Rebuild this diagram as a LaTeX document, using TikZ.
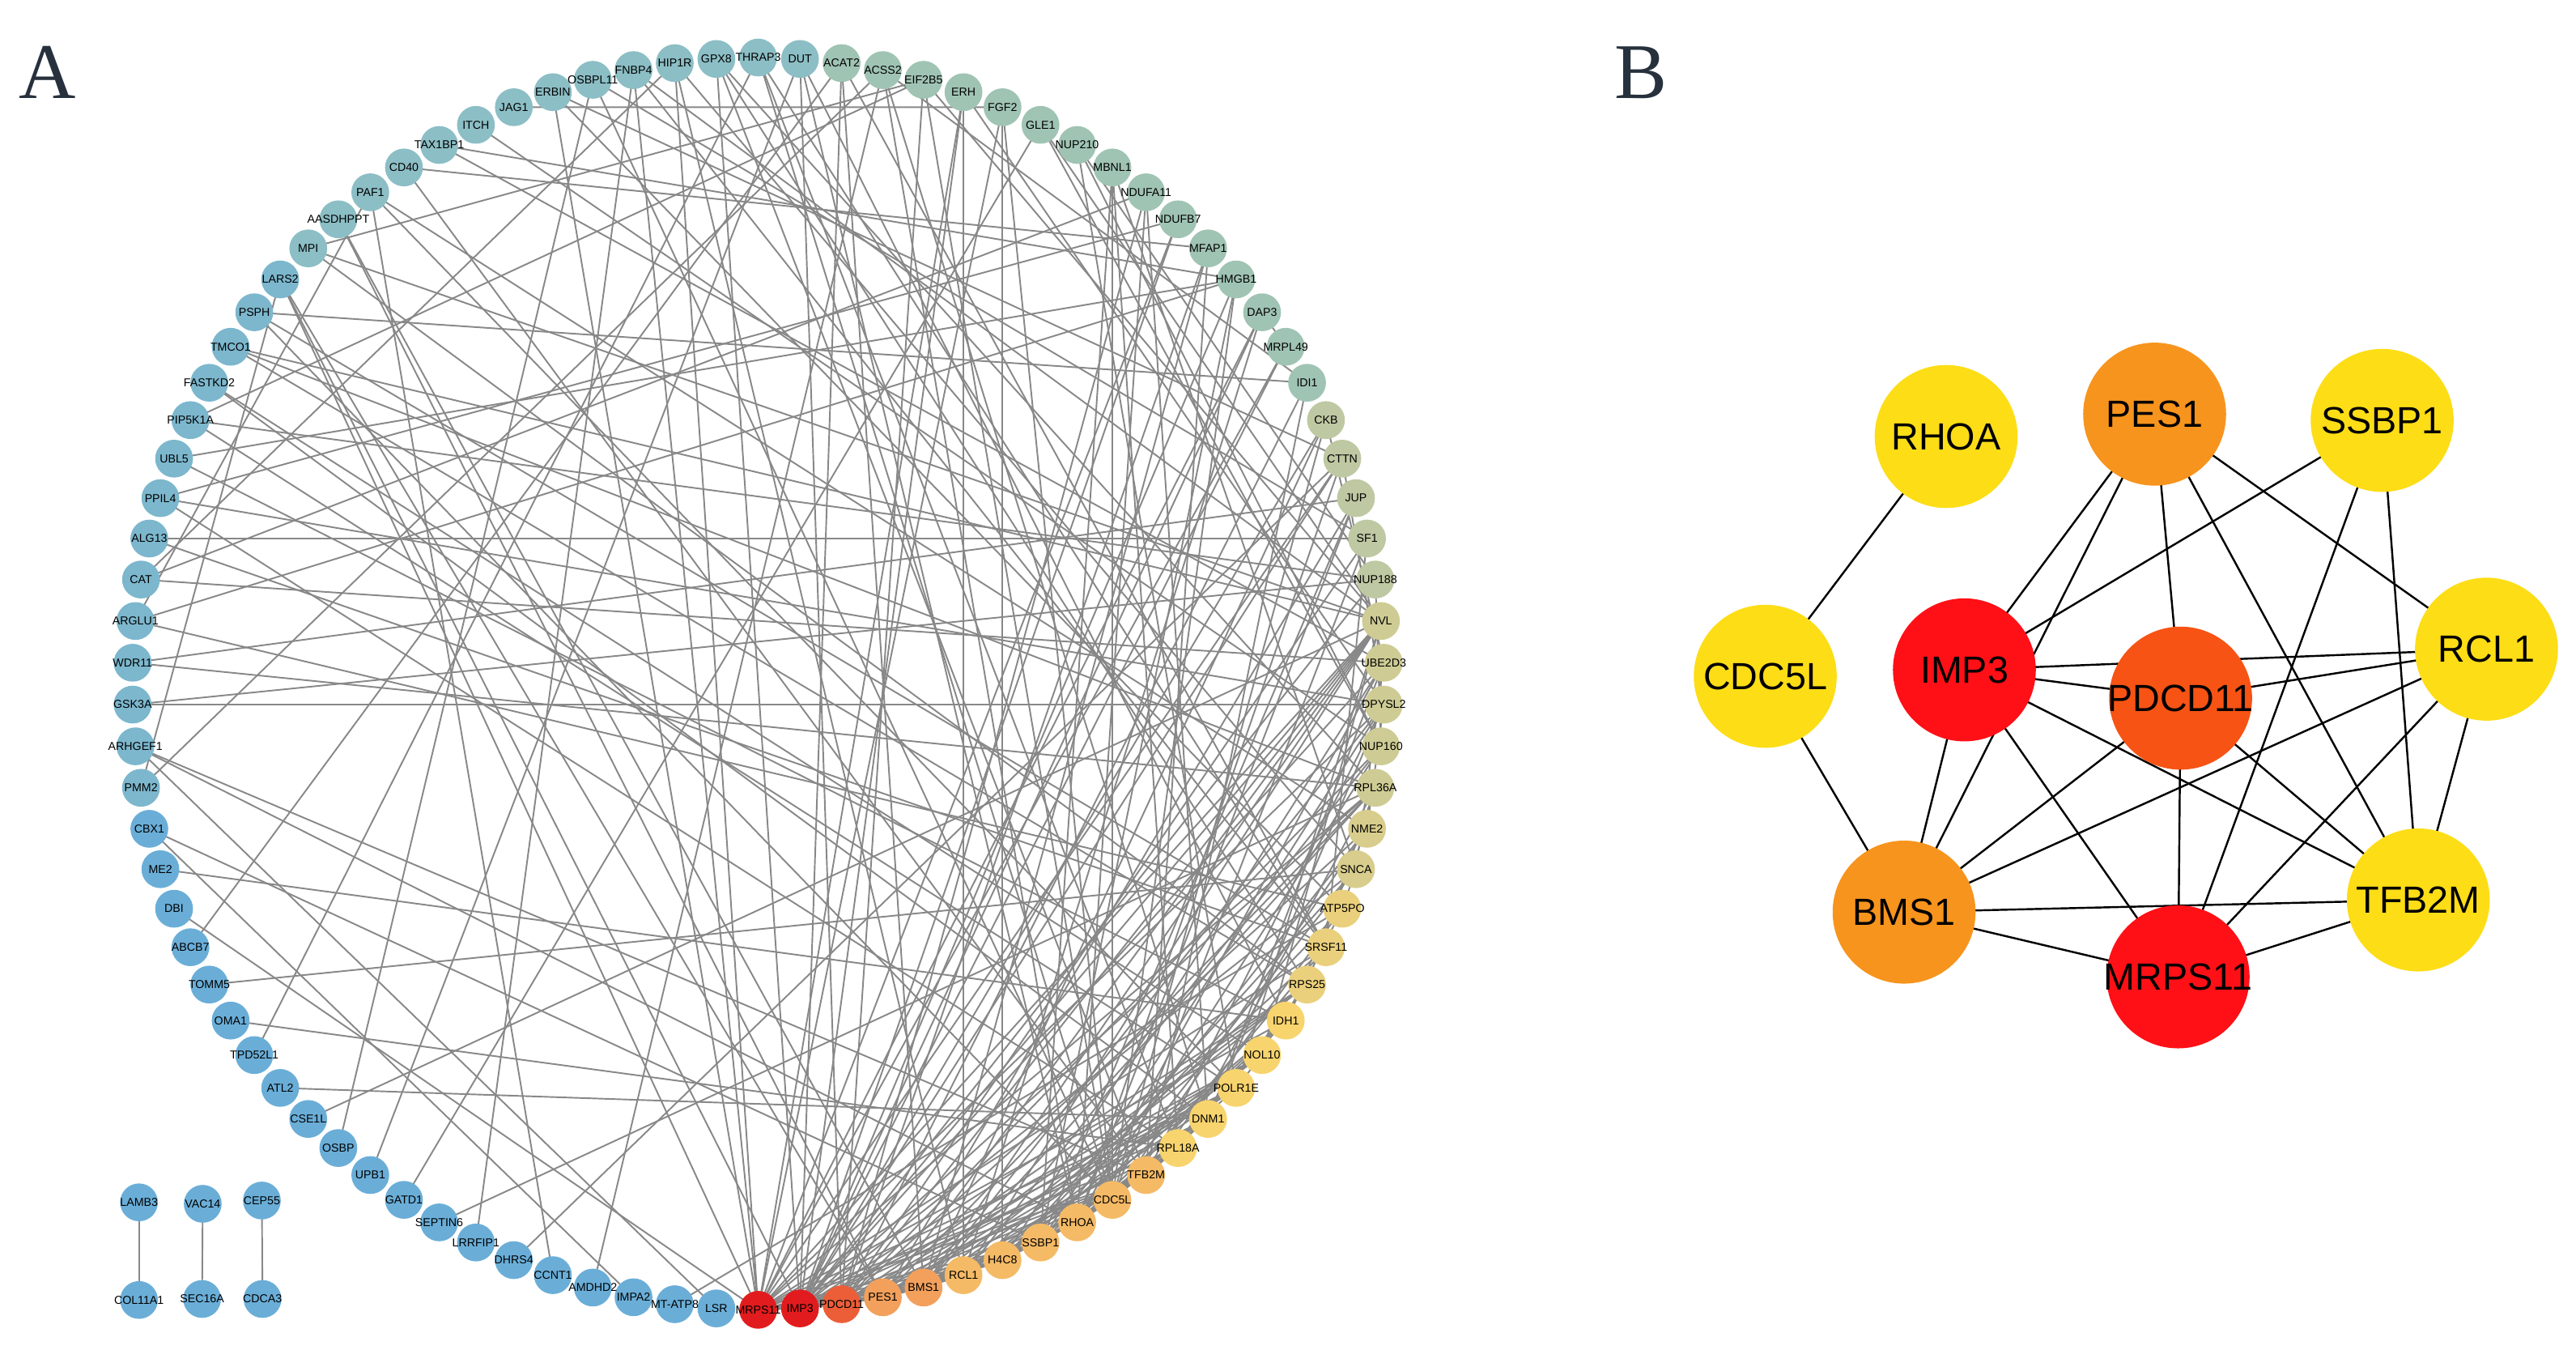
\documentclass[tikz,border=0pt]{standalone}
\usepackage{fontspec}
\setmainfont{Liberation Sans}
\newfontfamily\panelfont{Liberation Serif}
\pgfdeclarelayer{bg}
\pgfsetlayers{bg,main}
\definecolor{ca}{RGB}{226,28,30}
\definecolor{cb}{RGB}{236,94,56}
\definecolor{cc}{RGB}{242,160,92}
\definecolor{cd}{RGB}{245,186,102}
\definecolor{ce}{RGB}{248,212,110}
\definecolor{cf}{RGB}{234,208,124}
\definecolor{cg}{RGB}{216,205,140}
\definecolor{ch}{RGB}{206,204,148}
\definecolor{ci}{RGB}{190,200,162}
\definecolor{cj}{RGB}{160,196,180}
\definecolor{ck}{RGB}{140,190,197}
\definecolor{cl}{RGB}{124,183,205}
\definecolor{cm}{RGB}{106,174,216}
\definecolor{edgegray}{RGB}{136,136,136}
\definecolor{byel}{RGB}{253,221,22}
\definecolor{bora}{RGB}{247,148,29}
\definecolor{bred}{RGB}{255,16,22}
\definecolor{bpd}{RGB}{246,83,20}
\definecolor{panelcol}{RGB}{39,49,61}
\tikzset{
  rn/.style={circle, minimum size=23pt, inner sep=0pt, draw=none},
  rl/.style={inner sep=0pt, font=\fontsize{7}{7}\selectfont, text=black},
  lnk/.style={draw=edgegray, line width=0.95pt},
  bn/.style={circle, minimum size=87pt, inner sep=0pt, draw=none},
  bl/.style={font=\fontsize{23}{25}\selectfont, text=black, inner sep=0pt},
  blnk/.style={draw=black, line width=1.2pt},
  panel/.style={font=\panelfont\fontsize{48}{50}\selectfont, text=panelcol, inner sep=0pt}
}
\def\ringlist{MRPS11/ca, IMP3/ca, PDCD11/cb, PES1/cc, BMS1/cc, RCL1/cd, H4C8/cd, SSBP1/cd, RHOA/cd, CDC5L/cd, TFB2M/cd, RPL18A/ce, DNM1/ce, POLR1E/ce, NOL10/ce, IDH1/ce, RPS25/cf, SRSF11/cf, ATP5PO/cf, SNCA/cg, NME2/cg, RPL36A/ch, NUP160/ch, DPYSL2/ch, UBE2D3/ch, NVL/ch, NUP188/ci, SF1/ci, JUP/ci, CTTN/ci, CKB/ci, IDI1/cj, MRPL49/cj, DAP3/cj, HMGB1/cj, MFAP1/cj, NDUFB7/cj, NDUFA11/cj, MBNL1/cj, NUP210/cj, GLE1/cj, FGF2/cj, ERH/cj, EIF2B5/cj, ACSS2/cj, ACAT2/cj, DUT/ck, THRAP3/ck, GPX8/ck, HIP1R/ck, FNBP4/ck, OSBPL11/ck, ERBIN/ck, JAG1/ck, ITCH/ck, TAX1BP1/ck, CD40/ck, PAF1/ck, AASDHPPT/ck, MPI/ck, LARS2/cl, PSPH/cl, TMCO1/cl, FASTKD2/cl, PIP5K1A/cl, UBL5/cl, PPIL4/cl, ALG13/cl, CAT/cl, ARGLU1/cl, WDR11/cl, GSK3A/cl, ARHGEF1/cl, PMM2/cl, CBX1/cm, ME2/cm, DBI/cm, ABCB7/cm, TOMM5/cm, OMA1/cm, TPD52L1/cm, ATL2/cm, CSE1L/cm, OSBP/cm, UPB1/cm, GATD1/cm, SEPTIN6/cm, LRRFIP1/cm, DHRS4/cm, CCNT1/cm, AMDHD2/cm, IMPA2/cm, MT-ATP8/cm, LSR/cm}
\def\edgelist{54/42, 68/28, 72/24, 57/36, 56/25, 55/23, 79/20, 80/12, 82/13, 81/48, 83/26, 84/52, 85/47, 41/86, 87/22, 88/51, 89/30, 90/58, 91/45, 93/19, 94/73, 92/75, 77/1, 76/16, 78/46, 75/8, 74/61, 73/9, 72/27, 71/29, 70/19, 70/58, 69/25, 69/50, 68/18, 67/37, 67/12, 66/35, 66/16, 65/27, 65/14, 64/15, 64/13, 63/26, 63/22, 62/32, 62/18, 61/4, 61/2, 60/44, 60/17, 59/5, 59/4, 58/21, 56/35, 53/30, 53/1, 52/28, 51/18, 51/1, 50/20, 50/1, 49/17, 48/12, 47/9, 46/5, 45/32, 44/65, 44/3, 43/6, 42/7, 42/1, 40/14, 40/27, 40/23, 41/23, 39/12, 39/20, 38/3, 38/13, 36/5, 35/8, 34/1, 33/1, 33/34, 31/5, 32/11, 2/46, 2/43, 3/47, 2/49,
47/16, 48/18, 48/10, 49/11, 49/22, 50/6, 51/26, 52/10, 45/9, 45/13, 46/18, 44/10, 44/26, 43/24, 43/1, 42/10, 41/26, 39/10, 39/8, 38/9, 37/1, 37/2, 36/3, 36/11, 35/2, 35/10, 34/2, 34/6, 33/2, 32/3, 31/10, 30/2, 29/8, 58/14, 60/26, 61/1, 62/10, 63/17, 69/38, 70/35, 71/22, 74/45, 73/11, 67/24, 57/11, 53/19,
9/10, 10/5, 4/2, 4/5, 4/3, 4/11, 4/6, 8/2, 8/1, 8/11, 6/2, 6/3, 6/5, 6/1, 6/11, 2/3, 2/11, 2/1, 2/5, 3/5, 3/1, 3/11, 5/11, 5/1, 1/11, 7/1, 7/2, 7/3, 7/9, 7/10, 7/5,
1/12, 1/14, 1/16, 1/18, 1/22, 1/24, 1/26, 1/30, 2/13, 2/14, 2/15, 2/17, 2/20, 2/22, 2/25, 2/26, 2/27, 2/31, 3/12, 3/14, 3/15, 3/17, 3/21, 3/23, 3/26, 3/28, 4/14, 4/15, 4/17, 4/22, 4/26, 4/29, 5/13, 5/15, 5/17, 5/22, 5/24, 5/26, 6/14, 6/15, 6/18, 6/23, 6/26, 7/12, 7/16, 7/19, 7/20, 7/25, 8/13, 8/16, 8/21, 8/24, 9/12, 9/16, 9/20, 9/23, 9/25, 9/29, 9/30, 10/13, 10/14, 10/18, 10/21, 10/28, 11/12, 11/16, 11/19, 11/24,
12/17, 12/22, 13/25, 14/15, 14/26, 15/26, 16/19, 17/22, 18/28, 19/20, 20/25, 21/24, 23/27, 24/30, 25/31, 13/24, 16/21}
\begin{document}
\begin{tikzpicture}[x=1pt,y=-1pt]
\useasboundingbox (0,0) rectangle (1568,821.4);
\begin{pgfonlayer}{bg}
\fill[white] (0,0) rectangle (1568,821.4);
\end{pgfonlayer}
\node[panel] (labA) at (29,44) {A};
\node[panel] (labB) at (999,44) {B};
% ring of panel A
\foreach \nm/\cl [count=\k] in \ringlist {
  \pgfmathsetmacro\ang{-90+(\k-1)*3.8297872}
  \node[rn, fill=\cl] (n\k) at ({461.5+381*cos(\ang)},{416-381*sin(\ang)}) {};
}
\foreach \nm/\cl [count=\k] in \ringlist {
  \node[rl] (l\k) at (n\k) {\nm};
}
\begin{pgfonlayer}{bg}
\foreach \a/\b in \edgelist { \draw[lnk] (n\a.center) -- (n\b.center); }
\end{pgfonlayer}
% isolated pairs
\node[rn, fill=cm] (p1) at (84.6,731.6) {};
\node[rn, fill=cm] (p2) at (84.6,791) {};
\node[rn, fill=cm] (p3) at (123.4,732.5) {};
\node[rn, fill=cm] (p4) at (123,790.4) {};
\node[rn, fill=cm] (p5) at (159.4,730.5) {};
\node[rn, fill=cm] (p6) at (159.8,790.4) {};
\node[rl] at (p1) {LAMB3};
\node[rl] at (p2) {COL11A1};
\node[rl] at (p3) {VAC14};
\node[rl] at (p4) {SEC16A};
\node[rl] at (p5) {CEP55};
\node[rl] at (p6) {CDCA3};
\begin{pgfonlayer}{bg}
\draw[lnk] (p1.center) -- (p2.center);
\draw[lnk] (p3.center) -- (p4.center);
\draw[lnk] (p5.center) -- (p6.center);
\end{pgfonlayer}
% panel B
\node[bn, fill=byel] (bRHOA) at (1184.6,265.6) {};
\node[bn, fill=bora] (bPES1) at (1311.5,252) {};
\node[bn, fill=byel] (bSSBP1) at (1450,255.8) {};
\node[bn, fill=byel] (bCDC5L) at (1074.5,411.5) {};
\node[bn, fill=bred] (bIMP3) at (1195.7,407.6) {};
\node[bn, fill=bpd] (bPDCD11) at (1327.3,424.8) {};
\node[bn, fill=byel] (bRCL1) at (1513.5,395) {};
\node[bn, fill=bora] (bBMS1) at (1159,555) {};
\node[bn, fill=byel] (bTFB2M) at (1472,547.6) {};
\node[bn, fill=bred] (bMRPS11) at (1325.8,594.4) {};
\foreach \nm in {RHOA,PES1,SSBP1,CDC5L,IMP3,PDCD11,RCL1,BMS1,TFB2M,MRPS11} {
  \node[bl] at (b\nm) {\nm};
}
\begin{pgfonlayer}{bg}
\foreach \a/\b in {RHOA/CDC5L, CDC5L/BMS1, PES1/IMP3, PES1/BMS1, PES1/PDCD11, PES1/TFB2M, PES1/RCL1, SSBP1/IMP3, SSBP1/MRPS11, SSBP1/TFB2M, RCL1/IMP3, RCL1/PDCD11, RCL1/BMS1, RCL1/MRPS11, RCL1/TFB2M, IMP3/PDCD11, IMP3/TFB2M, IMP3/MRPS11, IMP3/BMS1, PDCD11/BMS1, PDCD11/MRPS11, PDCD11/TFB2M, BMS1/TFB2M, BMS1/MRPS11, MRPS11/TFB2M}
  { \draw[blnk] (b\a.center) -- (b\b.center); }
\end{pgfonlayer}
\end{tikzpicture}
\end{document}
